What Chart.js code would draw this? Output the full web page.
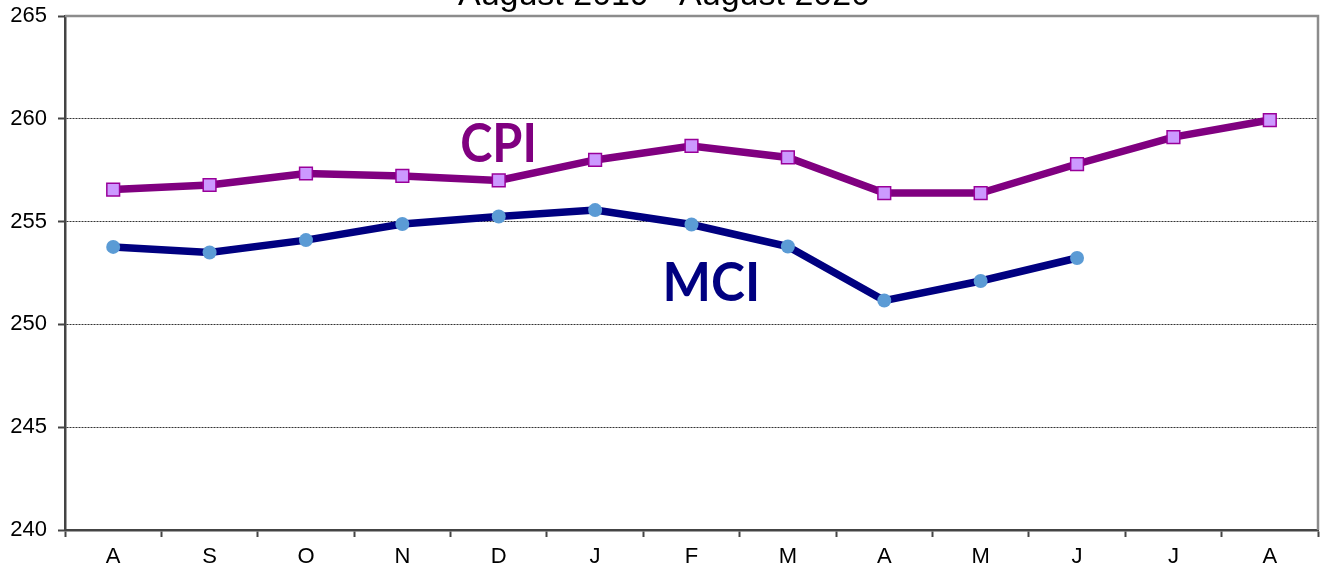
<!DOCTYPE html>
<html>
<head>
<meta charset="utf-8">
<script src="https://cdn.jsdelivr.net/npm/chart.js@4.4.1/dist/chart.umd.min.js"></script>
<style>
  html, body { margin: 0; padding: 0; background: #fff; }
  #wrap { width: 1321px; height: 565px; position: relative; }
</style>
</head>
<body>
<div id="wrap"><canvas id="js--chart"></canvas></div>
<script>
const months = ["A", "S", "O", "N", "D", "J", "F", "M", "A", "M", "J", "J", "A"];
const cpiValues = [256.56, 256.78, 257.34, 257.22, 257.0, 258.0, 258.68, 258.12, 256.39, 256.39, 257.8, 259.11, 259.94];
const mciValues = [253.77, 253.5, 254.1, 254.88, 255.25, 255.56, 254.86, 253.79, 251.16, 252.11, 253.23, null, null];
const yTicks = [240, 245, 250, 255, 260, 265];

const chartTitle = "August 2019 - August 2020";

// title (cut off at the top) + series labels + gray frame
const extras = {
    id: "extras",
    afterDraw(chart) {
        const ctx = chart.ctx;
        const area = chart.chartArea;
        const x = chart.scales.x;
        const y = chart.scales.y;
        ctx.save();

        ctx.strokeStyle = "#8c8c8c";
        ctx.lineWidth = 2.5;
        ctx.beginPath();
        ctx.moveTo(area.left, area.top);
        ctx.lineTo(area.right, area.top);
        ctx.lineTo(area.right, area.bottom);
        ctx.stroke();

        ctx.fillStyle = "#000";
        ctx.font = "34px 'Liberation Sans', Arial, sans-serif";
        ctx.textAlign = "center";
        ctx.textBaseline = "alphabetic";
        ctx.fillText(chartTitle, 664, 5);

        ctx.font = "bold 54px Lato, 'Noto Sans', sans-serif";
        ctx.textAlign = "left";
        ctx.fillStyle = "#800080";
        ctx.save();
        ctx.translate(x.getPixelForValue(3.6), y.getPixelForValue(257.9));
        ctx.scale(0.9, 1);
        ctx.fillText("CPI", 0, 0);
        ctx.restore();

        ctx.fillStyle = "#000080";
        ctx.save();
        ctx.translate(x.getPixelForValue(5.7), y.getPixelForValue(251.15));
        ctx.scale(0.95, 1);
        ctx.fillText("MCI", 0, 0);
        ctx.restore();

        ctx.restore();
    }
};

const config = {
    type: "line",
    data: {
        labels: months,
        datasets: [{
            label: "CPI",
            data: cpiValues,
            borderColor: "#800080",
            borderWidth: 7.5,
            pointStyle: "rect",
            pointRadius: 9,
            pointBackgroundColor: "#cc99ff",
            pointBorderColor: "#990099",
            pointBorderWidth: 1.5,
            tension: 0,
            clip: false
        }, {
            label: "MCI",
            data: mciValues,
            borderColor: "#000080",
            borderWidth: 7.5,
            pointStyle: "circle",
            pointRadius: 7,
            pointBackgroundColor: "#5b9bd5",
            pointBorderColor: "#5b9bd5",
            pointBorderWidth: 0,
            tension: 0,
            clip: false
        }]
    },
    options: {
        responsive: false,
        animation: false,
        layout: { autoPadding: false, padding: { left: 0, right: 3, top: 16, bottom: 0 } },
        plugins: {
            legend: { display: false },
            tooltip: { enabled: false }
        },
        scales: {
            x: {
                offset: true,
                grid: {
                    offset: true,
                    drawOnChartArea: false,
                    tickLength: 7,
                    tickColor: "#444",
                    tickWidth: 2
                },
                border: { color: "#444", width: 2.5 },
                ticks: {
                    color: "#000",
                    font: { family: "'Liberation Sans', Arial, sans-serif", size: 22 },
                    padding: 7,
                    maxRotation: 0,
                    autoSkip: false
                },
                afterFit: (s) => {
                    s.height = 35;
                    s.paddingLeft = 0;
                    s.paddingRight = 0;
                }
            },
            y: {
                min: 240,
                max: 265,
                afterBuildTicks: (s) => { s.ticks = yTicks.map(v => ({ value: v })); },
                grid: {
                    color: (c) => (c.tick && (c.tick.value === 240 || c.tick.value === 265)) ? "rgba(0,0,0,0)" : "#333",
                    lineWidth: 1,
                    tickLength: 7,
                    tickColor: "#444",
                    tickWidth: 2
                },
                border: { color: "#444", width: 2.5, dash: [2, 1] },
                ticks: {
                    color: "#000",
                    font: { family: "'Liberation Sans', Arial, sans-serif", size: 22 },
                    padding: 11
                },
                afterFit: (s) => {
                    s.width = 65;
                    s.paddingTop = 0;
                    s.paddingBottom = 0;
                }
            }
        }
    },
    plugins: [extras]
};

const canvas = document.getElementById("js--chart");
canvas.width = 1321;
canvas.height = 565;
const cpiChart = new Chart(canvas, config);
</script>
</body>
</html>
